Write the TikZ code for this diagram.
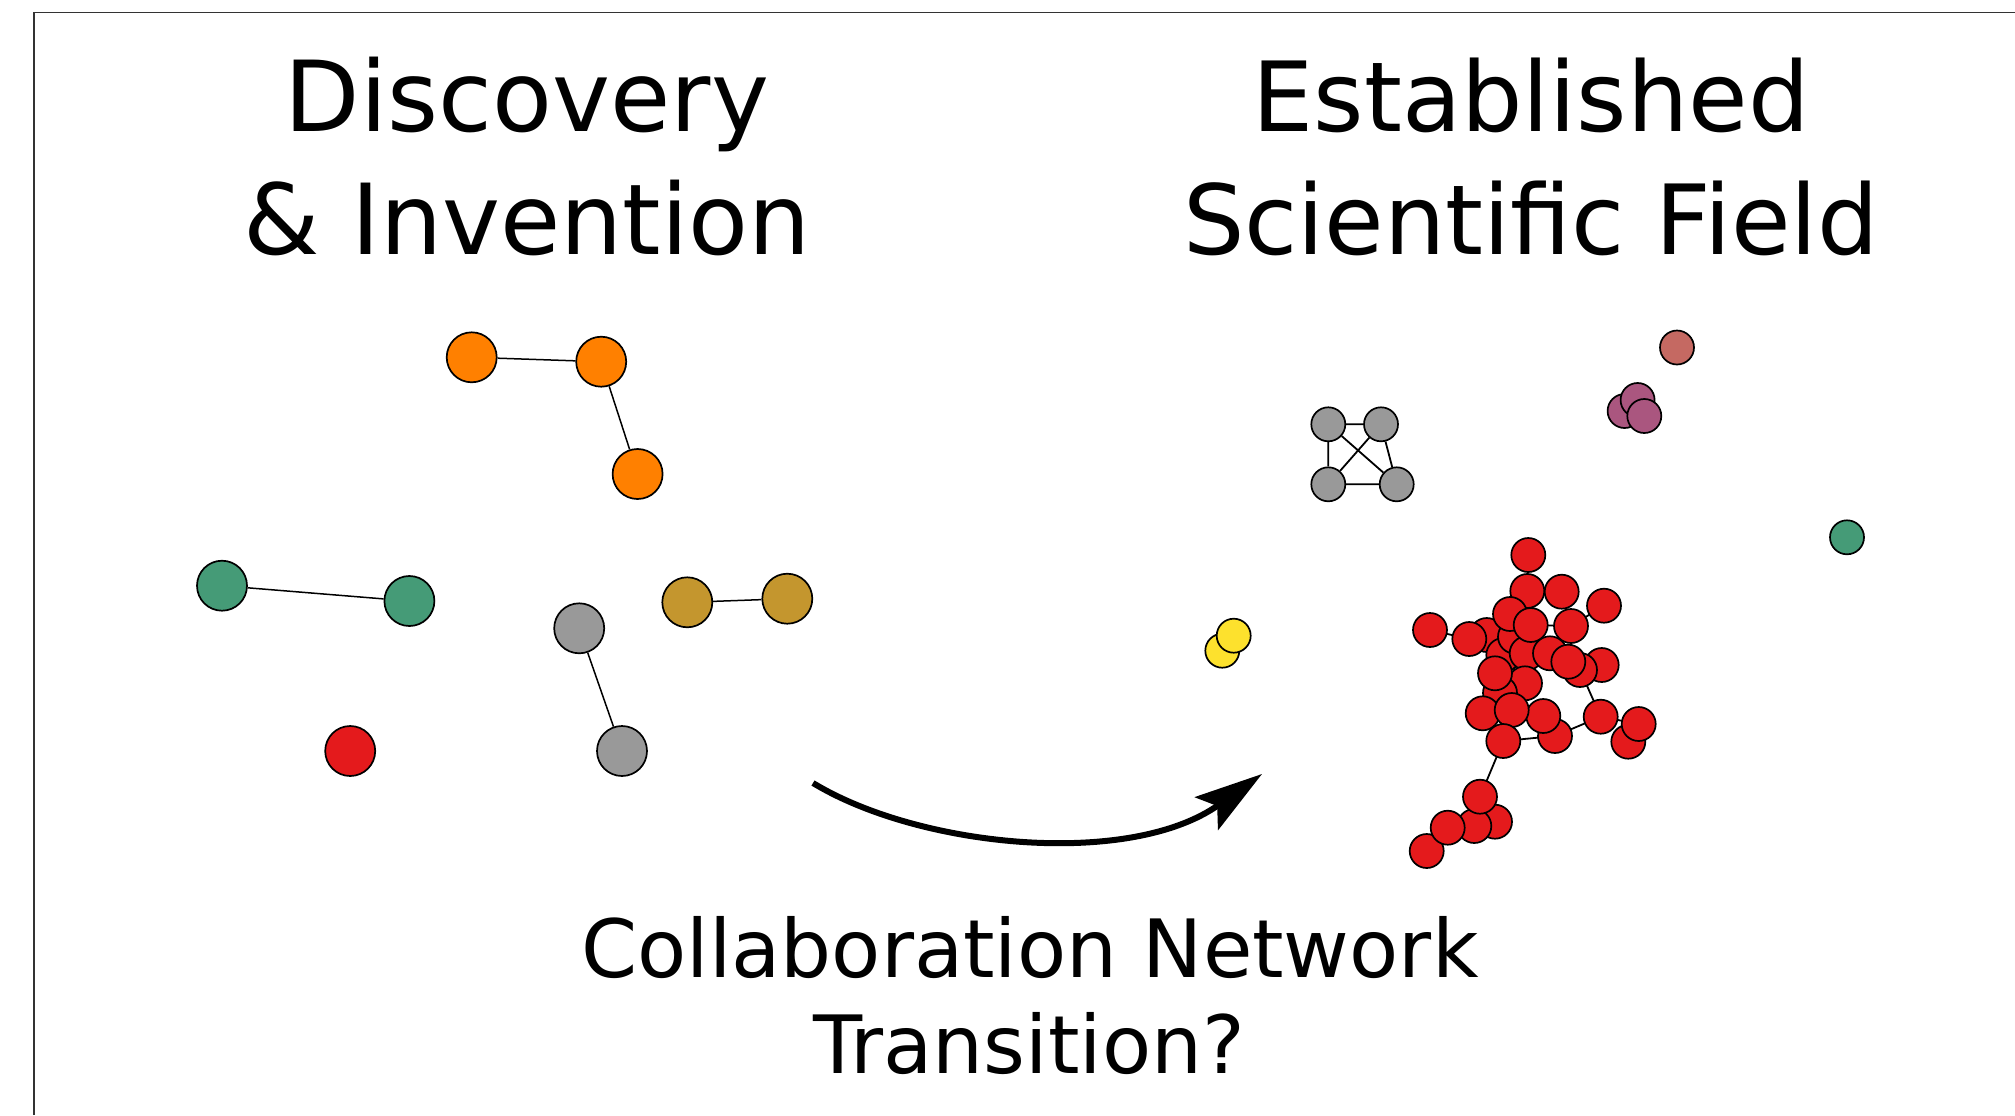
\documentclass[tikz,border=0pt]{standalone}
\usepackage{fontspec}
\setmainfont{DejaVu Sans}
\usetikzlibrary{arrows.meta}

\definecolor{cOrange}{HTML}{FF8000}
\definecolor{cGreen}{HTML}{459B77}
\definecolor{cGray}{HTML}{999999}
\definecolor{cGold}{HTML}{C4962E}
\definecolor{cRed}{HTML}{E41A1C}
\definecolor{cYellow}{HTML}{FDE12D}
\definecolor{cPurple}{HTML}{AA567F}
\definecolor{cSalmon}{HTML}{C56962}
\definecolor{cFrame}{HTML}{333333}

\tikzset{
  big/.style={circle, draw=black, line width=0.85pt, minimum size=25pt, inner sep=0pt},
  small/.style={circle, draw=black, line width=0.85pt, minimum size=17pt, inner sep=0pt},
  thinlink/.style={line width=0.75pt, black},
  link/.style={line width=0.9pt, black},
  title/.style={anchor=base, inner sep=0pt, font=\fontsize{49pt}{60pt}\selectfont},
  titler/.style={anchor=base, inner sep=0pt, font=\fontsize{48.4pt}{60pt}\selectfont},
  caption/.style={anchor=base, inner sep=0pt, font=\fontsize{40.2pt}{50pt}\selectfont},
  bigarrow/.style={line width=3pt, -{Stealth[length=34pt, width=20pt, inset=6.5pt]}},
}

\begin{document}
\begin{tikzpicture}[x=0.5pt, y=-0.5pt]
\useasboundingbox (0,0) rectangle (2015,1115);
\fill[white] (0,0) rectangle (2015,1115);
\draw[cFrame, line width=0.65pt] (34,1115) -- (34,12.5) -- (2015,12.5);

% headings
\node[title] (hl1) at (527,131) {Discovery};
\node[title] (hl2) at (527,254) {\& Invention};
\node[titler] (hr1) at (1531,131) {Established};
\node[titler] (hr2) at (1531,254) {Scientific Field};

% early collaboration groups
\node[big, fill=cOrange] (o1) at (471.7,357.3) {};
\node[big, fill=cOrange] (o2) at (601.2,361.7) {};
\node[big, fill=cOrange] (o3) at (637.6,474) {};
\node[big, fill=cGreen] (g1) at (222,585.7) {};
\node[big, fill=cGreen] (g2) at (409.4,601) {};
\node[big, fill=cGray] (s1) at (579.2,628.3) {};
\node[big, fill=cGray] (s2) at (622,751) {};
\node[big, fill=cRed] (lr) at (350.2,751) {};
\node[big, fill=cGold] (d1) at (687.3,602.3) {};
\node[big, fill=cGold] (d2) at (787.3,598.7) {};
\draw[thinlink] (o1) -- (o2) (o2) -- (o3) (g1) -- (g2) (s1) -- (s2) (d1) -- (d2);

% field-stage groups
\node[small, fill=cGray] (k1) at (1328.3,424.3) {};
\node[small, fill=cGray] (k2) at (1381,424.3) {};
\node[small, fill=cGray] (k3) at (1328.3,484.3) {};
\node[small, fill=cGray] (k4) at (1396.7,484.3) {};
\draw[link] (k1) -- (k2) (k1) -- (k3) (k1) -- (k4) (k2) -- (k3) (k2) -- (k4) (k3) -- (k4);

\node[small, fill=cSalmon] (sa) at (1677,347.5) {};
\node[small, fill=cPurple] (p1) at (1624.6,411) {};
\node[small, fill=cPurple] (p2) at (1637.6,400) {};
\node[small, fill=cPurple] (p3) at (1644.3,416) {};
\node[small, fill=cGreen] (gr) at (1847,537.3) {};
\node[small, fill=cYellow] (y1) at (1222.3,650.7) {};
\node[small, fill=cYellow] (y2) at (1233.7,635.7) {};

% the large red component: links first, members on top
\coordinate (c1) at (1528.3,555);
\coordinate (c2) at (1527.3,591);
\coordinate (c3) at (1561.7,591.7);
\coordinate (c4) at (1604,605.7);
\coordinate (c5) at (1430,630);
\coordinate (c6) at (1469.3,639);
\coordinate (c7) at (1510,614);
\coordinate (c8) at (1571,626);
\coordinate (c9) at (1530.7,625);
\coordinate (c10) at (1515,636.7);
\coordinate (c11) at (1486.7,635);
\coordinate (c12) at (1503.3,655);
\coordinate (c13) at (1526.7,653.3);
\coordinate (c14) at (1550,653.3);
\coordinate (c15) at (1580,670);
\coordinate (c16) at (1601.7,665);
\coordinate (c17) at (1568.3,661.7);
\coordinate (c18) at (1495,673.3);
\coordinate (c19) at (1525,683.3);
\coordinate (c20) at (1500,693);
\coordinate (c21) at (1482.7,713.3);
\coordinate (c22) at (1511.7,710);
\coordinate (c23) at (1543.3,716);
\coordinate (c24) at (1555,736);
\coordinate (c25) at (1503.3,741);
\coordinate (c26) at (1600.7,716.7);
\coordinate (c27) at (1628.3,741.7);
\coordinate (c28) at (1638.7,724);
\coordinate (c29) at (1480,796.7);
\coordinate (c30) at (1495,821.7);
\coordinate (c31) at (1474.3,826);
\coordinate (c32) at (1447.7,827.7);
\coordinate (c33) at (1426.7,851);

\draw[link] (c5) -- (c6) (c9) -- (c8) (c8) -- (c4) (c15) -- (c26) (c26) -- (c24)
  (c24) -- (c25) (c25) -- (c29) (c26) -- (c28) (c1) -- (c2) (c2) -- (c3)
  (c7) -- (c6) (c13) -- (c18) (c18) -- (c21) (c22) -- (c25) (c30) -- (c31)
  (c31) -- (c32) (c32) -- (c33) (c3) -- (c8) (c14) -- (c17) (c12) -- (c19)
  (c29) -- (c30);

\foreach \i in {1,2,3,4,5,11,6,12,10,13,7,8,9,14,16,15,17,19,20,18,21,24,23,22,25,26,27,28,30,31,29,33,32}
  \node[small, fill=cRed] (r\i) at (c\i) {};

% transition arrow and caption
\coordinate (as) at (813,783);
\coordinate (ae) at (1262,774);
\draw[bigarrow] (as) .. controls (920,848) and (1130,868) .. (ae);

\node[caption] (cap1) at (1030,977) {Collaboration Network};
\node[caption] (cap2) at (1029,1073) {Transition?};
\end{tikzpicture}
\end{document}
